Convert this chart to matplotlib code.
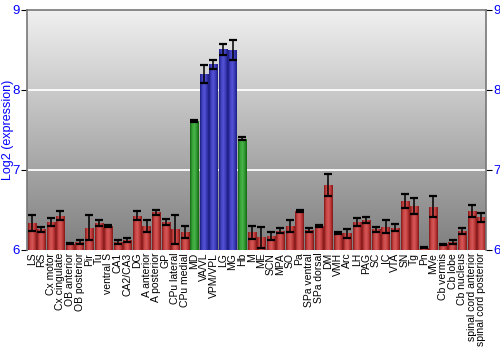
import numpy as np
import matplotlib
matplotlib.use("Agg")
import matplotlib.pyplot as plt
from matplotlib.colors import LinearSegmentedColormap

categories = ["LS", "RS", "Cx motor", "Cx cingulate", "OB anterior", "OB posterior", "Pir", "Tu",
              "ventral S", "CA1", "CA2/CA3", "DG", "A anterior", "A posterior", "GP", "CPu lateral",
              "CPu medial", "MD", "VA/VL", "VPM/VPL", "LG", "MG", "Hb", "M", "ME", "SCN", "MPA",
              "SO", "Pa", "SPa ventral", "SPa dorsal", "DM", "VMH", "Arc", "LH", "PAG", "SC", "IC",
              "VTA", "SN", "Tg", "Pn", "MVe", "Cb vermis", "Cb lobe", "Cb nucleus",
              "spinal cord anterior", "spinal cord posterior"]
values = [6.34, 6.26, 6.35, 6.43, 6.08, 6.10, 6.28, 6.34, 6.30, 6.10, 6.12, 6.43, 6.30, 6.47,
          6.35, 6.26, 6.23, 7.61, 8.20, 8.32, 8.51, 8.50, 7.39, 6.22, 6.16, 6.17, 6.24, 6.30,
          6.49, 6.25, 6.30, 6.81, 6.21, 6.21, 6.35, 6.375, 6.26, 6.29, 6.28, 6.61, 6.55, 6.03,
          6.54, 6.07, 6.10, 6.24, 6.49, 6.41]
errors = [0.10, 0.03, 0.045, 0.06, 0.01, 0.03, 0.16, 0.035, 0.015, 0.025, 0.025, 0.06, 0.075,
          0.03, 0.035, 0.18, 0.075, 0.015, 0.11, 0.06, 0.067, 0.13, 0.02, 0.08, 0.13, 0.05,
          0.03, 0.075, 0.015, 0.03, 0.01, 0.14, 0.01, 0.055, 0.045, 0.035, 0.03, 0.08, 0.04,
          0.09, 0.10, 0.01, 0.13, 0.01, 0.03, 0.035, 0.075, 0.055]
groups = ["r"] * 17 + ["g"] + ["b"] * 4 + ["g"] + ["r"] * 25
yticks = [6, 7, 8, 9]

palettes = {
    "r": ["#801818", "#c84444", "#d65858", "#bc3838", "#801818"],
    "g": ["#146614", "#38a438", "#48b448", "#309830", "#146614"],
    "b": ["#1c1c80", "#4242c4", "#5454d4", "#3a3ab8", "#1c1c80"],
}
cmaps = {k: LinearSegmentedColormap.from_list(k, v) for k, v in palettes.items()}
base = {"r": "#b03030", "g": "#2f952f", "b": "#3838b4"}

fig = plt.figure(figsize=(5, 3.5), dpi=100)
ax = fig.add_axes([27 / 500, 100 / 350, 459 / 500, 240 / 350])
n = len(categories)
x = np.arange(n)
ax.set_xlim(-0.5, n - 0.5)
ax.set_ylim(6, 9)

# background gradient
grad = np.linspace(0, 1, 256).reshape(-1, 1)
bgmap = LinearSegmentedColormap.from_list("bg", ["#7f7f7f", "#f0f0f0"])
ax.imshow(grad, aspect="auto", cmap=bgmap, extent=[-0.5, n - 0.5, 6, 9], origin="lower", zorder=0)

for yv in [7, 8]:
    ax.axhline(yv, color="white", lw=1.3, zorder=1)

bars = ax.bar(x, np.array(values) - 6, bottom=6, width=0.86,
              color=[base[g] for g in groups], zorder=2)
hgrad = np.linspace(0, 1, 64).reshape(1, -1)
for b, g in zip(bars, groups):
    xx, yy = b.get_x(), b.get_y()
    im = ax.imshow(hgrad, aspect="auto", cmap=cmaps[g],
                   extent=[xx, xx + b.get_width(), yy, yy + b.get_height()], zorder=2.5)
    im.set_clip_path(b)

_, caps, _ = ax.errorbar(x, values, yerr=errors, fmt="none", ecolor="black", elinewidth=1.1,
                         capsize=2.8, capthick=1.6, zorder=3)
for c in caps:
    c.set_color("#555555")

ax.set_xticks(x)
ax.set_xticklabels(categories, rotation=90, fontsize=7.5, family="Liberation Sans")
ax.tick_params(axis="x", length=0, pad=2)
ax.set_yticks(yticks)
ax.set_yticklabels([str(t) for t in yticks], color="blue", fontsize=9.5, family="Liberation Sans")
ax.tick_params(axis="y", length=4, color="black", pad=1, left=True, right=True,
               labelleft=True, labelright=True)
ax.set_ylabel("Log2 (expression)", color="blue", fontsize=9, family="Liberation Sans")
ax.yaxis.set_label_coords(-0.028, 0.5)

for s in ["left", "right", "top"]:
    ax.spines[s].set_color("#777777")
    ax.spines[s].set_linewidth(1.2)
ax.spines["bottom"].set_visible(False)

fig.savefig("out.png", dpi=100)
